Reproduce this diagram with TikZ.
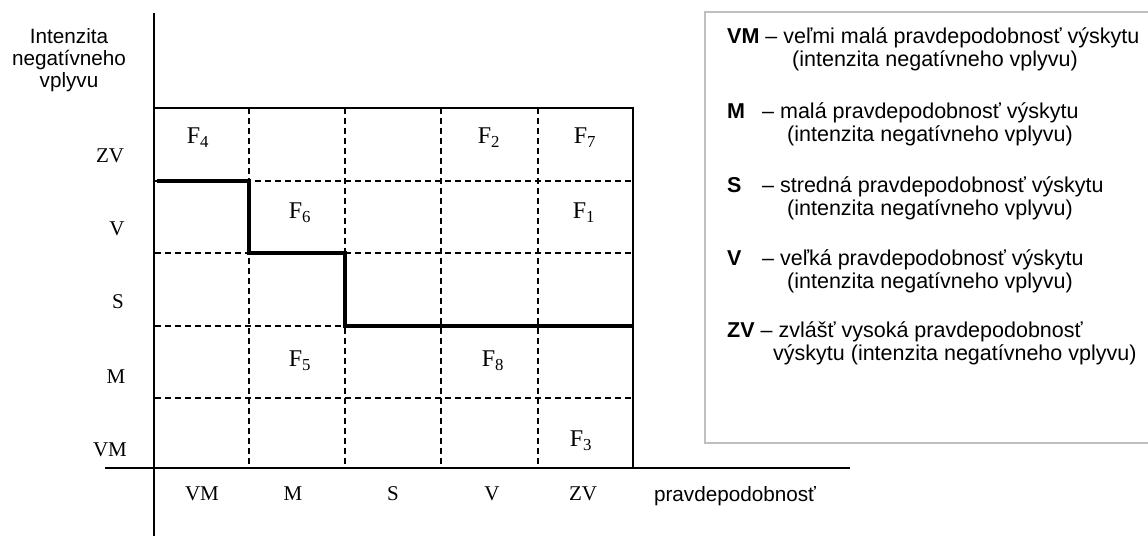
\documentclass[tikz,border=0pt]{standalone}
\usepackage{fontspec}
\setmainfont{Liberation Serif}
\newfontfamily\arialf{Liberation Sans}
\begin{document}
\begin{tikzpicture}[x=1pt,y=-1pt,
  gridline/.style={line width=1.3pt, dash pattern=on 6pt off 4pt},
  axisline/.style={line width=1.5pt},
  stepline/.style={line width=3.5pt},
  lab/.style={font=\fontsize{21}{23}\selectfont, inner sep=0pt},
  flab/.style={font=\fontsize{24}{26}\selectfont, inner sep=0pt},
  sans/.style={font=\arialf\fontsize{20.7}{22}\selectfont, inner sep=0pt},
  leg/.style={font=\arialf\fontsize{21.5}{23}\selectfont, inner sep=0pt, anchor=base west},
  legbox/.style={draw={rgb,255:red,192;green,192;blue,192}, line width=2pt}]
\useasboundingbox (0,0) rectangle (1148,536);

% legend box
\draw[legbox] (705,12) rectangle (1152,443);

% dashed grid
\foreach \y in {181,253,326,398} \draw[gridline] (155,\y) -- (633,\y);
\foreach \x in {249,345,441,538} \draw[gridline] (\x,108) -- (\x,468);

% frame
\draw[axisline] (155,108) -- (633,108) -- (633,468);
% axes
\draw[axisline] (154,13) -- (154,536);
\draw[axisline] (105,468) -- (850,468);

% step line
\draw[stepline] (157,181) -- (249,181) -- (249,253) -- (345,253) -- (345,326) -- (633,326);

% axis titles
\node[sans, align=center] (ytitle) at (69,60) {Intenzita\\negatívneho\\vplyvu};
\node[sans] (xtitle) at (735,496) {pravdepodobnosť};

% row labels
\node[lab] (rZV) at (110,156) {ZV};
\node[lab] (rV)  at (117,229) {V};
\node[lab] (rS)  at (118,302) {S};
\node[lab] (rM)  at (116,377) {M};
\node[lab] (rVM) at (110,450) {VM};

% column labels
\node[lab] (cVM) at (202,494) {VM};
\node[lab] (cM)  at (293,494) {M};
\node[lab] (cS)  at (393,494) {S};
\node[lab] (cV)  at (492,494) {V};
\node[lab] (cZV) at (583,494) {ZV};

% factors
\node[flab] (f4) at (198,138) {F\textsubscript{4}};
\node[flab] (f2) at (489,138) {F\textsubscript{2}};
\node[flab] (f7) at (585,138) {F\textsubscript{7}};
\node[flab] (f6) at (300,213) {F\textsubscript{6}};
\node[flab] (f1) at (584,213) {F\textsubscript{1}};
\node[flab] (f5) at (300,361) {F\textsubscript{5}};
\node[flab] (f8) at (493,361) {F\textsubscript{8}};
\node[flab] (f3) at (581,441) {F\textsubscript{3}};

% legend
\node[leg] (l1a) at (727,43) {\textbf{VM} – veľmi malá pravdepodobnosť výskytu};
\node[leg] (l1b) at (792,66) {(intenzita negatívneho vplyvu)};
\node[leg] (l2k) at (727,118) {\textbf{M}};
\node[leg] (l2a) at (762,118) {– malá pravdepodobnosť výskytu};
\node[leg] (l2b) at (787,141) {(intenzita negatívneho vplyvu)};
\node[leg] (l3k) at (727,192) {\textbf{S}};
\node[leg] (l3a) at (762,192) {– stredná pravdepodobnosť výskytu};
\node[leg] (l3b) at (787,215) {(intenzita negatívneho vplyvu)};
\node[leg] (l4k) at (727,265) {\textbf{V}};
\node[leg] (l4a) at (762,265) {– veľká pravdepodobnosť výskytu};
\node[leg] (l4b) at (787,288) {(intenzita negatívneho vplyvu)};
\node[leg] (l5a) at (727,337) {\textbf{ZV} – zvlášť vysoká pravdepodobnosť};
\node[leg] (l5b) at (773,360) {výskytu (intenzita negatívneho vplyvu)};
\end{tikzpicture}
\end{document}
